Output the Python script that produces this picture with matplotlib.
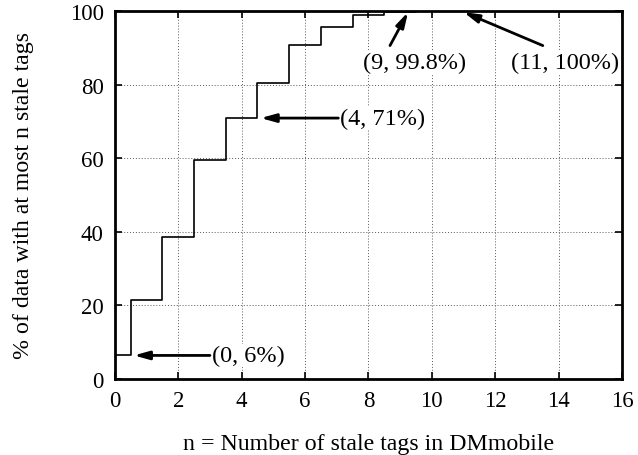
import matplotlib
matplotlib.use("Agg")
import matplotlib.pyplot as plt

# CDF of stale tags (histeps, one level per n)
n_stale = list(range(0, 17))
pct = [6.4, 21.5, 38.6, 59.6, 70.9, 80.4, 90.8, 95.6, 98.9, 99.8, 99.9, 100,
       100, 100, 100, 100, 100]

x_ticks = [0, 2, 4, 6, 8, 10, 12, 14, 16]
y_ticks = [0, 20, 40, 60, 80, 100]

# (label, text xy, text ha, arrow tail xy, arrow head xy)
notes = [
    ("(0, 6%)", (3.05, 6.4), "left", (3.0, 6.4), (0.6, 6.4)),
    ("(4, 71%)", (7.1, 70.9), "left", (7.05, 70.9), (4.6, 70.9)),
    ("(9, 99.8%)", (9.45, 86.0), "center", (8.68, 90.6), (9.25, 99.7)),
    ("(11, 100%)", (14.2, 86.0), "center", (13.5, 90.6), (11.0, 99.7)),
]

plt.rcParams["font.family"] = ["Liberation Serif", "DejaVu Serif"]

fig = plt.figure(figsize=(6.38, 4.56), dpi=100)
ax = fig.add_axes([0.180, 0.1667, 0.795, 0.807])

ax.step(n_stale, pct, where="mid", color="black", lw=1.2)

ax.set_xlim(0, 16)
ax.set_ylim(0, 100)
ax.set_xticks(x_ticks)
ax.set_yticks(y_ticks)
ax.tick_params(direction="in", length=5, width=1.2, top=True, right=True,
               labelsize=16.5, pad=8)
for s in ax.spines.values():
    s.set_linewidth(2.0)
ax.grid(True, color="0.35", linestyle=(0, (1, 2)), lw=0.7)

ax.set_xlabel("n = Number of stale tags in DMmobile", fontsize=17.2, labelpad=16)
ax.set_ylabel("% of data with at most n stale tags", fontsize=17.2, labelpad=26)

arrow = dict(arrowstyle="-|>,head_length=0.9,head_width=0.25",
             color="black", lw=2.0, shrinkA=0, shrinkB=0)
for label, txy, ha, tail, head in notes:
    ax.text(txy[0], txy[1], label, ha=ha, va="center",
            fontsize=17.5, bbox=dict(fc="white", ec="none", pad=0.5))
    ax.annotate("", xy=head, xytext=tail, arrowprops=arrow)

fig.savefig("out.png", dpi=100)
